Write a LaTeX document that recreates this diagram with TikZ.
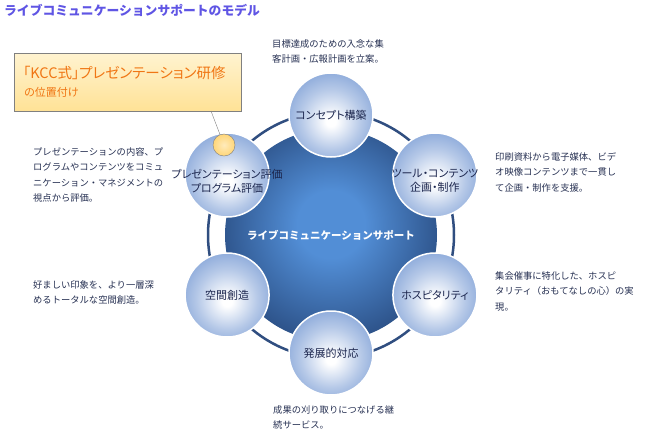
\documentclass[tikz,border=0pt]{standalone}
\usepackage{fontspec}
\setmainfont{Noto Sans CJK JP}
\newfontfamily\paltfont{Noto Sans CJK JP}[RawFeature=+palt]
\usetikzlibrary{calc}

\definecolor{titleblue}{RGB}{95,85,228}
\definecolor{ringblue}{RGB}{48,78,128}
\definecolor{hubinner}{RGB}{82,142,214}
\definecolor{hubouter}{RGB}{26,52,98}
\definecolor{satedge}{RGB}{108,146,208}
\definecolor{satlabel}{RGB}{28,38,78}
\definecolor{desctext}{RGB}{38,48,82}
\definecolor{kccorange}{RGB}{240,118,20}
\definecolor{boxtop}{RGB}{255,243,208}
\definecolor{boxbottom}{RGB}{255,226,150}
\definecolor{dotyellow}{RGB}{255,214,120}

\pgfdeclareradialshading{hubshade}{\pgfpoint{0bp}{3bp}}{color(0bp)=(hubinner); color(8bp)=(hubinner); color(36bp)=(hubouter); color(50bp)=(hubouter)}
\pgfdeclareradialshading{satshade}{\pgfpoint{0bp}{-4bp}}{color(0bp)=(white); color(3bp)=(white); color(18bp)=(satedge!50!white); color(36bp)=(satedge); color(50bp)=(satedge)}

\tikzset{
  satellite/.style={circle, minimum size=84pt, inner sep=0pt, shading=satshade,
    draw=white, line width=1.5pt},
  sattext/.style={inner sep=0pt, text=satlabel, align=center,
    font=\paltfont\fontsize{11}{14}\selectfont},
  desc/.style={anchor=north west, inner sep=0pt, align=left, text=desctext,
    font=\fontsize{9.3}{15.5}\selectfont},
}

\begin{document}
\begin{tikzpicture}[x=1pt,y=-1pt]
\useasboundingbox (0,0) rectangle (665,432);

% title
\node[anchor=west, inner sep=0pt, text=titleblue, font=\fontsize{12.8}{14}\selectfont\bfseries] (title) at (4,10) {ライブコミュニケーションサポートのモデル};

% ring and hub
\coordinate (mid) at (331,235);
\draw[ringblue, line width=2.5pt] (mid) circle (123pt);
\node[circle, minimum size=212pt, inner sep=0pt, shading=hubshade, text=white, font=\fontsize{10.5}{13}\selectfont\bfseries] (hub) at (mid) {ライブコミュニケーションサポート};

% satellites
\node[satellite] (concept) at ($(mid)+(90:120pt)$) {};
\node[satellite] (tools) at ($(mid)+(30:120pt)$) {};
\node[satellite] (hospitality) at ($(mid)+(-30:120pt)$) {};
\node[satellite] (growth) at ($(mid)+(-90:118pt)$) {};
\node[satellite] (space) at ($(mid)+(-150:120pt)$) {};
\node[satellite] (evaluation) at ($(mid)+(150:120pt)$) {};
\node[sattext] (conceptlabel) at (concept) {コンセプト構築};
\node[sattext] (toolslabel) at ([yshift=-6pt]tools) {ツール・コンテンツ\\企画・制作};
\node[sattext] (hospitalitylabel) at (hospitality) {ホスピタリティ};
\node[sattext] (growthlabel) at (growth) {発展的対応};
\node[sattext] (spacelabel) at (space) {空間創造};
\node[sattext] (evaluationlabel) at ([yshift=-6pt]evaluation) {プレゼンテーション評価\\プログラム評価};

% callout
\node[anchor=north west, minimum width=227pt, minimum height=58pt, inner sep=0pt,
  draw=gray, top color=boxtop, bottom color=boxbottom] (callout) at (14,53) {};
\node[anchor=west, inner sep=0pt, text=kccorange, font=\paltfont\fontsize{14.5}{16}\selectfont] (kcc) at (23,73) {「KCC式」プレゼンテーション研修};
\node[anchor=west, inner sep=0pt, text=kccorange, font=\paltfont\fontsize{11}{13}\selectfont] (kccsub) at (24,92) {の位置付け};
\node[circle, minimum size=22pt, inner sep=0pt, draw=gray, inner color=dotyellow!50!white, outer color=dotyellow] (dot) at (224,145) {};
\coordinate (pin) at (211,111);
\draw[gray] (pin) -- (dot);

% descriptions
\node[desc] (descconcept) at (272,39) {目標達成のための入念な集\\客計画・広報計画を立案。};
\node[desc] (desceval) at (33,147) {プレゼンテーションの内容、プ\\ログラムやコンテンツをコミュ\\ニケーション・マネジメントの\\視点から評価。};
\node[desc] (desctools) at (495,152) {印刷資料から電子媒体、ビデ\\オ映像コンテンツまで一貫し\\て企画・制作を支援。};
\node[desc] (descspace) at (33,280) {好ましい印象を、より一層深\\めるトータルな空間創造。};
\node[desc] (deschosp) at (495,271) {集会催事に特化した、ホスピ\\タリティ（おもてなしの心）の実\\現。};
\node[desc] (descgrowth) at (273,405) {成果の刈り取りにつなげる継\\続サービス。};
\end{tikzpicture}
\end{document}
